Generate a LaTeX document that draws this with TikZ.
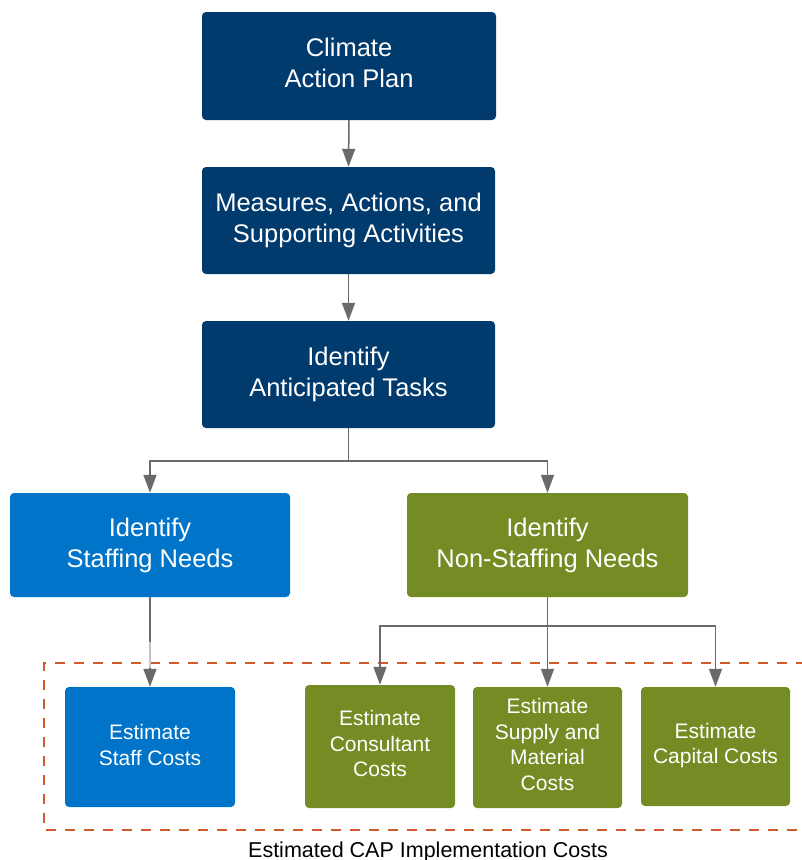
\documentclass[tikz,border=0pt]{standalone}
\usepackage{fontspec}
\setmainfont{Liberation Sans}
\usetikzlibrary{arrows.meta}
\definecolor{navy}{HTML}{013A6D}
\definecolor{midblue}{HTML}{0074C8}
\definecolor{olive}{HTML}{748C23}
\definecolor{connector}{HTML}{6A6A6A}
\definecolor{connectorpale}{HTML}{C4C4C4}
\definecolor{costline}{HTML}{D2592B}
\tikzset{
  box/.style={rectangle, rounded corners=4pt, inner sep=0pt},
  bigtext/.style={text=white, align=center, inner sep=0pt,
    font=\fontsize{25.5}{31}\selectfont},
  smalltext/.style={text=white, align=center, inner sep=0pt,
    font=\fontsize{21}{25.7}\selectfont},
  flow/.style={draw=connector, line width=1.5pt,
    -{Triangle[width=13pt,length=18pt]}},
  costframe/.style={draw=costline, line width=2pt, dash pattern=on 10pt off 9pt},
}
\begin{document}
\begin{tikzpicture}[x=1pt,y=-1pt]
\useasboundingbox (0,0) rectangle (802,860);

% main chain
\node[box, fill=navy, minimum width=294pt, minimum height=108pt] (cap) at (349,66) {};
\node[bigtext, yshift=3pt] (captext) at (cap) {Climate\\Action Plan};
\node[box, fill=navy, minimum width=293pt, minimum height=107pt] (measures) at (348.5,220.5) {};
\node[bigtext] (measurestext) at (measures) {Measures, Actions, and\\Supporting Activities};
\node[box, fill=navy, minimum width=293pt, minimum height=107pt] (tasks) at (348.5,374.5) {};
\node[bigtext] (taskstext) at (tasks) {Identify\\Anticipated Tasks};

% needs
\node[box, fill=midblue, minimum width=280pt, minimum height=104pt] (staffing) at (150,545) {};
\node[bigtext] (staffingtext) at (staffing) {Identify\\Staffing Needs};
\node[box, fill=olive, minimum width=281pt, minimum height=104pt] (nonstaffing) at (547.5,545) {};
\node[bigtext] (nonstaffingtext) at (nonstaffing) {Identify\\Non-Staffing Needs};

% cost estimates
\node[box, fill=midblue, minimum width=170pt, minimum height=120pt] (staffcost) at (150,747) {};
\node[smalltext, yshift=2pt] (staffcosttext) at (staffcost) {Estimate\\Staff Costs};
\node[box, fill=olive, minimum width=150pt, minimum height=123pt] (consultant) at (380,746.5) {};
\node[smalltext, yshift=3pt] (consultanttext) at (consultant) {Estimate\\Consultant\\Costs};
\node[box, fill=olive, minimum width=149pt, minimum height=121pt] (supply) at (547.5,747.5) {};
\node[smalltext, yshift=3pt] (supplytext) at (supply) {Estimate\\Supply and\\Material\\Costs};
\node[box, fill=olive, minimum width=149pt, minimum height=119pt] (capital) at (715.5,746.5) {};
\node[smalltext, yshift=1pt] (capitaltext) at (capital) {Estimate\\Capital Costs};

% dashed frame around the cost estimates, open past the right edge
\coordinate (frameTR) at (806,663);
\coordinate (frameBR) at (806,830);
\draw[costframe] (frameTR) -- (44,663) -- (44,830) -- (frameBR);
\node[font=\fontsize{21.5}{25}\selectfont, anchor=base] (costlabel)
  at (428,857) {Estimated CAP Implementation Costs};

% connectors
\draw[flow] (cap.south) -- (measures.north);
\draw[flow] (measures.south) -- (tasks.north);
\draw[flow] (tasks.south) -- ++(0,33) -| (staffing.north);
\draw[flow] (tasks.south) -- ++(0,33) -| (nonstaffing.north);
\draw[flow] (staffing.south) -- (staffcost.north);
\coordinate (paleStart) at ([yshift=-45pt]staffing.south);
\coordinate (paleEnd) at ([yshift=19pt]staffcost.north);
\draw[draw=connectorpale, line width=1.5pt] (paleStart) -- (paleEnd);
\draw[flow] (nonstaffing.south) -- ++(0,29) -| (consultant.north);
\draw[flow] (nonstaffing.south) -- (supply.north);
\draw[flow] (nonstaffing.south) -- ++(0,29) -| (capital.north);
\end{tikzpicture}
\end{document}
